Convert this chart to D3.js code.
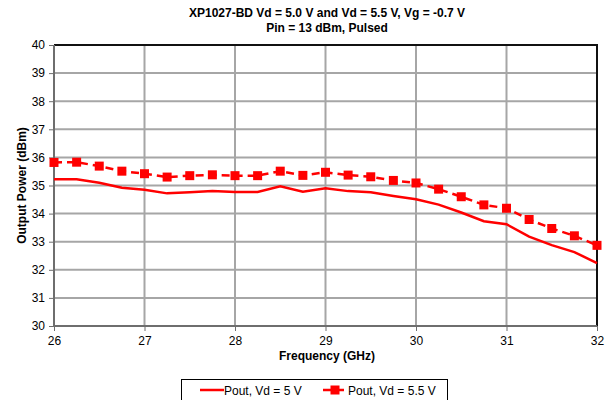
<!DOCTYPE html>
<html>
<head>
<meta charset="utf-8">
<script src="https://cdn.jsdelivr.net/npm/d3@7"></script>
<style>
  html, body { margin: 0; padding: 0; background: #fff; }
  svg { display: block; font-family: "Liberation Sans", Arial, sans-serif; }
</style>
</head>
<body>
<svg id="chart" width="609" height="400"></svg>
<script>
// Frequency sweep (GHz)
const freq = [26, 26.25, 26.5, 26.75, 27, 27.25, 27.5, 27.75, 28, 28.25, 28.5, 28.75,
              29, 29.25, 29.5, 29.75, 30, 30.25, 30.5, 30.75, 31, 31.25, 31.5, 31.75, 32];
// Output power (dBm), Vd = 5 V
const poutVd50 = [35.22, 35.22, 35.10, 34.92, 34.85, 34.72, 34.76, 34.80, 34.77, 34.77, 34.97, 34.78,
                  34.90, 34.80, 34.76, 34.63, 34.51, 34.32, 34.04, 33.73, 33.62, 33.18, 32.88, 32.63, 32.24];
// Output power (dBm), Vd = 5.5 V
const poutVd55 = [35.82, 35.83, 35.69, 35.51, 35.42, 35.30, 35.35, 35.38, 35.35, 35.35, 35.51, 35.36,
                  35.47, 35.37, 35.31, 35.18, 35.09, 34.87, 34.60, 34.31, 34.19, 33.79, 33.47, 33.21, 32.87];
const xTicks = [26, 27, 28, 29, 30, 31, 32];
const yTicks = [30, 31, 32, 33, 34, 35, 36, 37, 38, 39, 40];
const titleLines = ["XP1027-BD Vd = 5.0 V and Vd = 5.5 V, Vg = -0.7 V", "Pin = 13 dBm, Pulsed"];
const legendLabels = ["Pout, Vd = 5 V", "Pout, Vd = 5.5 V"];

const svg = d3.select("#chart");
const m = { left: 54, top: 45, right: 597, bottom: 326 };
const red = "#ff0000";

const x = d3.scaleLinear().domain([26, 32]).range([m.left, m.right]);
const y = d3.scaleLinear().domain([30, 40]).range([m.bottom, m.top]);

// Title
svg.append("g").selectAll("text").data(titleLines).join("text")
  .attr("x", 327).attr("y", (d, i) => 17 + i * 15)
  .attr("text-anchor", "middle").attr("font-size", 12).attr("font-weight", "bold")
  .text(d => d);

// Grid
const grid = svg.append("g").attr("stroke", "#a6a6a6").attr("stroke-width", 2);
grid.selectAll(".gy").data(yTicks.slice(1, -1)).join("line")
  .attr("x1", m.left).attr("x2", m.right).attr("y1", d => y(d)).attr("y2", d => y(d));
grid.selectAll(".gx").data(xTicks.slice(1, -1)).join("line")
  .attr("y1", m.top).attr("y2", m.bottom).attr("x1", d => x(d)).attr("x2", d => x(d));

// Plot frame (top/right)
svg.append("path")
  .attr("d", `M${m.left},${m.top}H${m.right}V${m.bottom}`)
  .attr("fill", "none").attr("stroke", "#111").attr("stroke-width", 2);

// Axes
const yAxis = svg.append("g").attr("transform", `translate(${m.left},0)`)
  .call(d3.axisLeft(y).tickValues(yTicks).tickSize(5).tickPadding(4).tickFormat(d3.format("d")));
const xAxis = svg.append("g").attr("transform", `translate(0,${m.bottom})`)
  .call(d3.axisBottom(x).tickValues(xTicks).tickSize(5).tickPadding(3).tickFormat(d3.format("d")));
[yAxis, xAxis].forEach(a => {
  a.select(".domain").attr("stroke", "#6e6e6e").attr("stroke-width", 2);
  a.selectAll(".tick line").attr("stroke", "#6e6e6e");
  a.selectAll("text").attr("font-size", 12).attr("fill", "#000")
    .attr("font-family", "'Liberation Sans', Arial, sans-serif");
});
yAxis.select(".domain").attr("d", `M0,${m.top}V${m.bottom}`);
xAxis.select(".domain").attr("d", `M${m.left},0H${m.right}`);
xAxis.selectAll(".tick text").attr("dy", "0.9em");

// Axis titles
svg.append("text").attr("x", 327).attr("y", 360)
  .attr("text-anchor", "middle").attr("font-size", 12).attr("font-weight", "bold")
  .text("Frequency (GHz)");
svg.append("text").attr("transform", `translate(26,${(m.top + m.bottom) / 2}) rotate(-90)`)
  .attr("text-anchor", "middle").attr("font-size", 12).attr("font-weight", "bold")
  .text("Output Power (dBm)");

// Series
const line = d3.line().x((d, i) => x(freq[i])).y(d => y(d));
svg.append("path").datum(poutVd50)
  .attr("d", line).attr("fill", "none").attr("stroke", red).attr("stroke-width", 2.5);
svg.append("path").datum(poutVd55)
  .attr("d", line).attr("fill", "none").attr("stroke", red).attr("stroke-width", 2.5)
  .attr("stroke-dasharray", "8,5");
svg.append("g").selectAll("rect").data(poutVd55).join("rect")
  .attr("x", (d, i) => x(freq[i]) - 4.5).attr("y", d => y(d) - 4.5)
  .attr("width", 9).attr("height", 9).attr("fill", red);

// Legend
const lg = svg.append("g");
lg.append("rect").attr("x", 181.5).attr("y", 379.5).attr("width", 266).attr("height", 30)
  .attr("fill", "#fff").attr("stroke", "#000").attr("stroke-width", 1);
lg.append("line").attr("x1", 200).attr("x2", 224).attr("y1", 390).attr("y2", 390)
  .attr("stroke", red).attr("stroke-width", 2.5);
lg.append("text").attr("x", 224).attr("y", 394.5).attr("font-size", 12).text(legendLabels[0]);
lg.append("line").attr("x1", 323).attr("x2", 347).attr("y1", 390).attr("y2", 390)
  .attr("stroke", red).attr("stroke-width", 2.5).attr("stroke-dasharray", "8,5");
lg.append("rect").attr("x", 330.5).attr("y", 385.5).attr("width", 9).attr("height", 9).attr("fill", red);
lg.append("text").attr("x", 348).attr("y", 394.5).attr("font-size", 12).text(legendLabels[1]);
</script>
</body>
</html>
